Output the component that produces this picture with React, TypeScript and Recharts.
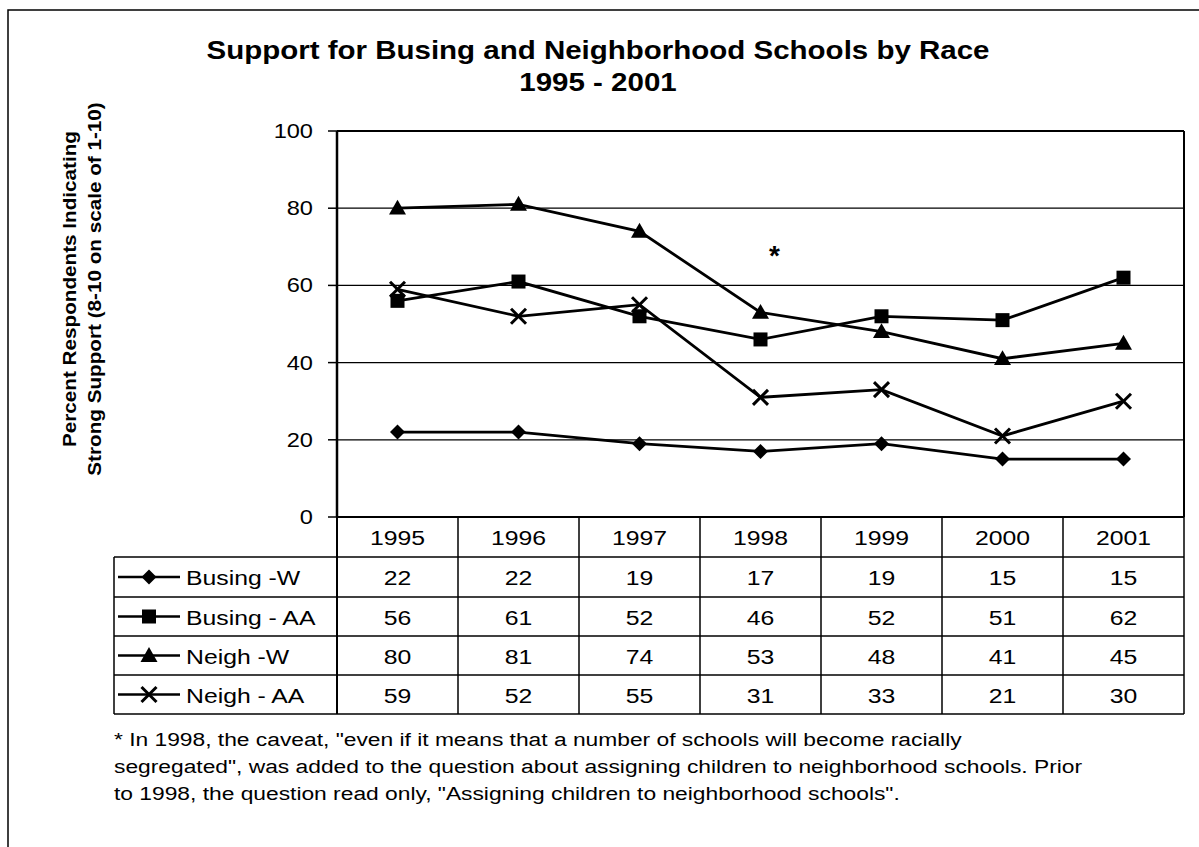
import React from 'react';
import { LineChart, Line, XAxis, YAxis, CartesianGrid, Customized, ReferenceDot } from 'recharts';

const YEARS = ['1995', '1996', '1997', '1998', '1999', '2000', '2001'];
const BUSING_W = [22, 22, 19, 17, 19, 15, 15];
const BUSING_AA = [56, 61, 52, 46, 52, 51, 62];
const NEIGH_W = [80, 81, 74, 53, 48, 41, 45];
const NEIGH_AA = [59, 52, 55, 31, 33, 21, 30];
const SERIES_NAMES = ['Busing -W', 'Busing - AA', 'Neigh -W', 'Neigh - AA'];
const SERIES_KEYS = ['bw', 'baa', 'nw', 'naa'];
const SERIES_MARKERS = ['diamond', 'square', 'triangle', 'cross'];
const Y_TICKS = [0, 20, 40, 60, 80, 100];
const TITLE_LINES = ['Support for Busing and Neighborhood Schools by Race', '1995 - 2001'];
const Y_LABEL_LINES = ['Percent Respondents Indicating', 'Strong Support (8-10 on scale of 1-10)'];
const FOOTNOTE_LINES = [
  '* In 1998, the caveat, "even if it means that a number of schools will become racially',
  'segregated", was added to the question about assigning children to neighborhood schools. Prior',
  'to 1998, the question read only, "Assigning children to neighborhood schools".',
];
const NOTE_YEAR = '1998';
const NOTE_VALUE = 69;

const SERIES_VALUES = [BUSING_W, BUSING_AA, NEIGH_W, NEIGH_AA];
const data = YEARS.map((y, i) => ({
  year: y,
  bw: BUSING_W[i],
  baa: BUSING_AA[i],
  nw: NEIGH_W[i],
  naa: NEIGH_AA[i],
}));

const W = 1199;
const H = 847;
const FONT = '"Liberation Sans", Arial, sans-serif';
const HS = 1.18;
const PLOT_LEFT = 337;
const PLOT_RIGHT = 1184;
const PLOT_TOP = 131;
const PLOT_BOTTOM = 517;
const COL_W = (PLOT_RIGHT - PLOT_LEFT) / YEARS.length;
const ROW_LINES = [557, 597, 636, 675, 714];
const TABLE_LEFT = 114;

function SText({
  x,
  y,
  size,
  anchor = 'start',
  bold = false,
  rotate = 0,
  sx = HS,
  children,
}: {
  x: number;
  y: number;
  size: number;
  anchor?: string;
  bold?: boolean;
  rotate?: number;
  sx?: number;
  children: any;
}) {
  return (
    <text
      transform={`translate(${x},${y}) rotate(${rotate}) scale(${sx},1)`}
      x={0}
      y={0}
      textAnchor={anchor}
      fontSize={size}
      fontWeight={bold ? 'bold' : 'normal'}
      fontFamily={FONT}
      fill="#000"
    >
      {children}
    </text>
  );
}

function Marker({ kind, cx, cy }: { kind: string; cx: number; cy: number }) {
  if (kind === 'diamond') {
    const s = 7.5;
    return <polygon points={`${cx},${cy - s} ${cx + s},${cy} ${cx},${cy + s} ${cx - s},${cy}`} fill="#000" />;
  }
  if (kind === 'square') {
    const s = 7;
    return <rect x={cx - s} y={cy - s} width={2 * s} height={2 * s} fill="#000" />;
  }
  if (kind === 'triangle') {
    const s = 8.5;
    return <polygon points={`${cx},${cy - s} ${cx + s},${cy + s * 0.75} ${cx - s},${cy + s * 0.75}`} fill="#000" />;
  }
  const s = 7.5;
  return (
    <g stroke="#000" strokeWidth={3}>
      <line x1={cx - s} y1={cy - s} x2={cx + s} y2={cy + s} />
      <line x1={cx - s} y1={cy + s} x2={cx + s} y2={cy - s} />
    </g>
  );
}

function YTick(props: any) {
  const { x, y, payload } = props;
  return (
    <SText x={x} y={y + 7} size={20} anchor="end">
      {payload.value}
    </SText>
  );
}

function TableTick(props: any) {
  const { x, payload, index } = props;
  const left = x - COL_W / 2;
  const right = x + COL_W / 2;
  const rowCenters = ROW_LINES.slice(0, -1).map((r, i) => (r + ROW_LINES[i + 1]) / 2);
  const headerCenter = (PLOT_BOTTOM + ROW_LINES[0]) / 2;
  return (
    <g>
      <SText x={x} y={headerCenter + 8} size={21} anchor="middle">
        {payload.value}
      </SText>
      {SERIES_VALUES.map((vals, si) => (
        <SText key={si} x={x} y={rowCenters[si] + 8} size={21} anchor="middle">
          {vals[index]}
        </SText>
      ))}
      <line x1={right} y1={PLOT_BOTTOM} x2={right} y2={ROW_LINES[ROW_LINES.length - 1]} stroke="#000" strokeWidth={1.5} />
      {ROW_LINES.map((ry, ri) => (
        <line key={ri} x1={left} y1={ry} x2={right} y2={ry} stroke="#000" strokeWidth={1.5} />
      ))}
      {index === 0 && (
        <g>
          <line x1={left} y1={PLOT_BOTTOM} x2={left} y2={ROW_LINES[ROW_LINES.length - 1]} stroke="#000" strokeWidth={2} />
          <line x1={TABLE_LEFT} y1={ROW_LINES[0]} x2={TABLE_LEFT} y2={ROW_LINES[ROW_LINES.length - 1]} stroke="#000" strokeWidth={1.5} />
          {ROW_LINES.map((ry, ri) => (
            <line key={ri} x1={TABLE_LEFT} y1={ry} x2={left} y2={ry} stroke="#000" strokeWidth={1.5} />
          ))}
          {SERIES_NAMES.map((nm, si) => (
            <g key={nm}>
              <line x1={TABLE_LEFT + 4} y1={rowCenters[si]} x2={TABLE_LEFT + 66} y2={rowCenters[si]} stroke="#000" strokeWidth={2.5} />
              <Marker kind={SERIES_MARKERS[si]} cx={TABLE_LEFT + 35} cy={rowCenters[si]} />
              <SText x={TABLE_LEFT + 72} y={rowCenters[si] + 8} size={21}>
                {nm}
              </SText>
            </g>
          ))}
        </g>
      )}
    </g>
  );
}

function StaticText() {
  return (
    <g>
      <rect x={8} y={10} width={1300} height={900} fill="none" stroke="#000" strokeWidth={1.5} />
      <line x1={PLOT_RIGHT} y1={PLOT_TOP} x2={PLOT_RIGHT} y2={PLOT_BOTTOM} stroke="#000" strokeWidth={2} />
      <line x1={PLOT_LEFT} y1={PLOT_TOP} x2={PLOT_RIGHT} y2={PLOT_TOP} stroke="#000" strokeWidth={2} />
      {TITLE_LINES.map((t, i) => (
        <SText key={i} x={598} y={59 + i * 32} size={25} anchor="middle" bold>
          {t}
        </SText>
      ))}
      {Y_LABEL_LINES.map((t, i) => (
        <SText key={i} x={76 + i * 25} y={289} size={18} anchor="middle" bold rotate={-90} sx={1.15}>
          {t}
        </SText>
      ))}
      {FOOTNOTE_LINES.map((t, i) => (
        <SText key={i} x={114} y={746 + i * 27} size={19} sx={1.2}>
          {t}
        </SText>
      ))}
    </g>
  );
}

export default function App() {
  return (
    <div style={{ position: 'absolute', left: 0, top: 0, width: W, height: H, background: '#fff' }}>
      <LineChart width={W} height={H} data={data} margin={{ top: PLOT_TOP, right: W - PLOT_RIGHT, bottom: 130, left: 0 }}>
        <CartesianGrid horizontal vertical={false} stroke="#000" strokeWidth={1.3} strokeOpacity={1} />
        <XAxis
          dataKey="year"
          height={H - 130 - PLOT_BOTTOM}
          axisLine={{ stroke: '#000', strokeWidth: 2 }}
          tickLine={false}
          tick={<TableTick />}
          interval={0}
          padding={{ left: COL_W / 2, right: COL_W / 2 }}
        />
        <YAxis
          width={PLOT_LEFT}
          domain={[0, 100]}
          ticks={Y_TICKS}
          axisLine={{ stroke: '#000', strokeWidth: 2.5 }}
          tickLine={{ stroke: '#000', strokeWidth: 1.5 }}
          tickSize={9}
          tickMargin={15}
          tick={<YTick />}
        />
        {SERIES_KEYS.map((k, si) => (
          <Line
            key={k}
            dataKey={k}
            name={SERIES_NAMES[si]}
            stroke="#000"
            strokeWidth={2.8}
            isAnimationActive={false}
            dot={(p: any) => <Marker key={`${k}-${p.index}`} kind={SERIES_MARKERS[si]} cx={p.cx} cy={p.cy} />}
            activeDot={false}
          />
        ))}
        <ReferenceDot
          x={NOTE_YEAR}
          y={NOTE_VALUE}
          r={0}
          shape={(p: any) => (
            <text x={p.cx + 14} y={p.cy + 14} textAnchor="middle" fontSize={28} fontWeight="bold" fontFamily={FONT} fill="#000">
              *
            </text>
          )}
        />
        <Customized component={<StaticText />} />
      </LineChart>
    </div>
  );
}
